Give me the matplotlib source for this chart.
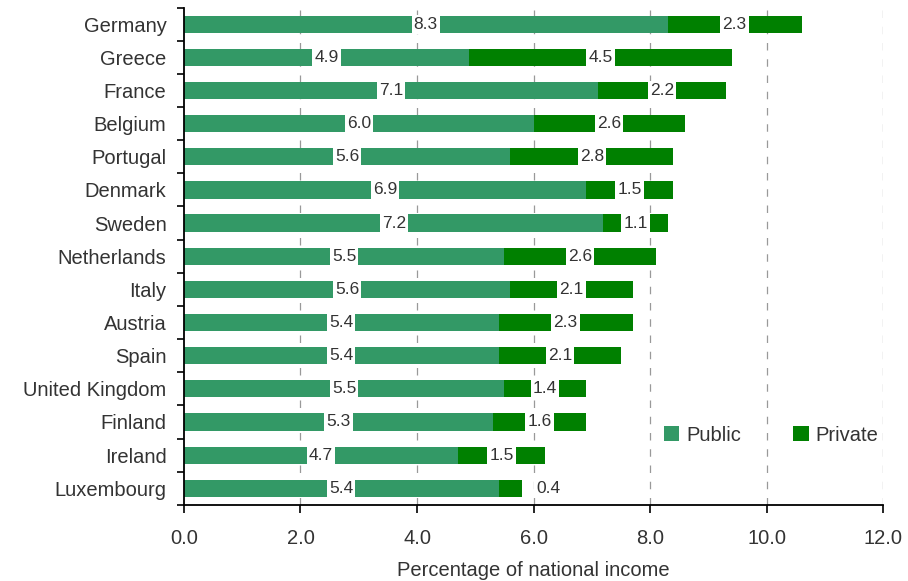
import matplotlib.pyplot as plt
import numpy as np

plt.rcParams['font.family'] = ['Liberation Sans', 'DejaVu Sans']

countries = ['Germany', 'Greece', 'France', 'Belgium', 'Portugal', 'Denmark', 'Sweden',
             'Netherlands', 'Italy', 'Austria', 'Spain', 'United Kingdom', 'Finland',
             'Ireland', 'Luxembourg']
public = [8.3, 4.9, 7.1, 6.0, 5.6, 6.9, 7.2, 5.5, 5.6, 5.4, 5.4, 5.5, 5.3, 4.7, 5.4]
private = [2.3, 4.5, 2.2, 2.6, 2.8, 1.5, 1.1, 2.6, 2.1, 2.3, 2.1, 1.4, 1.6, 1.5, 0.4]

c_pub = '#339966'
c_priv = '#008000'
txt = '#333333'

fig = plt.figure(figsize=(9.08, 5.81), dpi=100)
ax = fig.add_axes([0.2026, 0.131, 0.77, 0.856])

y = np.arange(len(countries))
ax.barh(y, public, height=0.52, color=c_pub, label='Public', zorder=2)
ax.barh(y, private, left=public, height=0.52, color=c_priv, label='Private', zorder=2)

box = dict(facecolor='white', edgecolor='none', pad=1.5)
for i in range(len(countries)):
    ax.text(public[i] / 2, y[i], f'{public[i]:.1f}', ha='center', va='center',
            fontsize=12.5, color=txt, bbox=box, zorder=3)
    if private[i] < 0.5:
        # too small to hold its label, put it just past the bar
        ax.text(public[i] + private[i] + 0.45, y[i], f'{private[i]:.1f}', ha='center',
                va='center', fontsize=12.5, color=txt, bbox=box, zorder=3)
    else:
        ax.text(public[i] + private[i] / 2, y[i], f'{private[i]:.1f}', ha='center',
                va='center', fontsize=12.5, color=txt, bbox=box, zorder=3)

for gx in range(2, 13, 2):
    ax.axvline(gx, color='#999999', linestyle=(0, (6, 7)), linewidth=0.9, zorder=1)

ax.set_xlim(0, 12)
ax.set_ylim(len(countries) - 0.5, -0.5)
ax.set_xticks(np.arange(0, 13, 2))
ax.set_xticklabels([f'{v:.1f}' for v in np.arange(0, 13, 2)], fontsize=14.5, color=txt)
ax.set_yticks(y)
ax.set_yticklabels(countries, fontsize=14.5, color=txt)
ax.set_yticks(np.arange(-0.5, len(countries), 1), minor=True)
ax.tick_params(axis='y', which='major', length=0, pad=12.5)
ax.tick_params(axis='y', which='minor', length=5, width=1.2, direction='out')
ax.tick_params(axis='x', length=6, width=1.2, direction='out', pad=11)
ax.set_xlabel('Percentage of national income', fontsize=14.5, color=txt, labelpad=10)

for s in ['top', 'right']:
    ax.spines[s].set_visible(False)
for s in ['left', 'bottom']:
    ax.spines[s].set_linewidth(1.3)

ax.legend(loc='center', bbox_to_anchor=(0.84, 0.14), ncol=2, frameon=False,
          fontsize=14.5, handlelength=0.75, handleheight=0.75, columnspacing=2.6,
          handletextpad=0.35, labelcolor=txt)

fig.savefig('out.png', dpi=100)
